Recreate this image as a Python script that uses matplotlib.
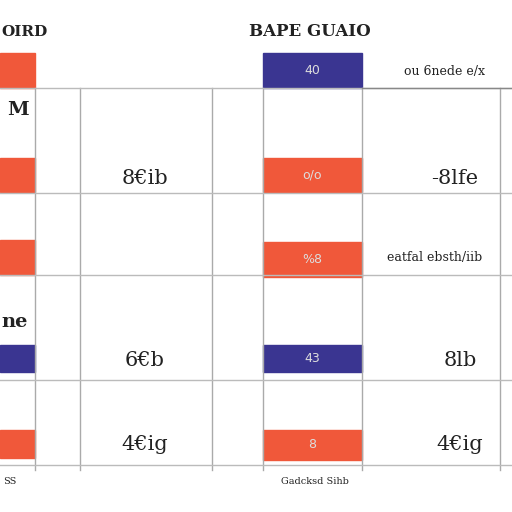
import matplotlib
matplotlib.use("Agg")
import matplotlib.pyplot as plt
from matplotlib.patches import Rectangle

ORANGE = "#f0583a"; BLUE = "#3a3591"
left_rows = [(53, 88, ORANGE), (158, 192, ORANGE), (240, 275, ORANGE), (345, 372, BLUE), (430, 458, ORANGE)]
mid_rows = [(53, 88, BLUE, "40"), (158, 192, ORANGE, "o/o"), (242, 277, ORANGE, "%8"), (345, 372, BLUE, "43"), (430, 460, ORANGE, "8")]
vlines = [35, 80, 212, 263, 362, 500]
hlines = [88, 193, 275, 380, 465]
texts = [(25, 32, "OIRD", 11, "bold"), (310, 32, "BAPE GUAIO", 12, "bold"),
         (18, 110, "M", 14, "bold"), (145, 178, "8€ib", 15, "normal"),
         (455, 178, "-8lfe", 15, "normal"), (15, 322, "ne", 14, "bold"),
         (145, 360, "6€b", 15, "normal"), (460, 360, "8lb", 15, "normal"),
         (145, 445, "4€ig", 15, "normal"), (460, 445, "4€ig", 15, "normal"),
         (445, 72, "ou 6nede e/x", 9, "normal"), (435, 258, "eatfal ebsth/iib", 9, "normal"),
         (10, 482, "SS", 7, "normal"), (315, 482, "Gadcksd Sihb", 7, "normal")]

fig = plt.figure(figsize=(5.12, 5.12), dpi=100)
ax = fig.add_axes([0, 0, 1, 1])
ax.set_xlim(0, 512); ax.set_ylim(512, 0); ax.axis("off")
for x in vlines:
    ax.plot([x, x], [88, 470], color="#aaaaaa", lw=1)
for y in hlines:
    ax.plot([0, 512], [y, y], color="#bbbbbb", lw=1)
ax.plot([362, 512], [88, 88], color="#888888", lw=1)
for y0, y1, c in left_rows:
    ax.add_patch(Rectangle((0, y0), 35, y1 - y0, color=c))
for y0, y1, c, t in mid_rows:
    ax.add_patch(Rectangle((263, y0), 99, y1 - y0, color=c))
    ax.text(312, (y0 + y1) / 2, t, color="#dddddd", ha="center", va="center", fontsize=9)
for x, y, t, s, w in texts:
    ax.text(x, y, t, ha="center", va="center", fontsize=s, fontweight=w, family="DejaVu Serif", color="#222222")
fig.savefig("out.png", dpi=100, facecolor="white")
